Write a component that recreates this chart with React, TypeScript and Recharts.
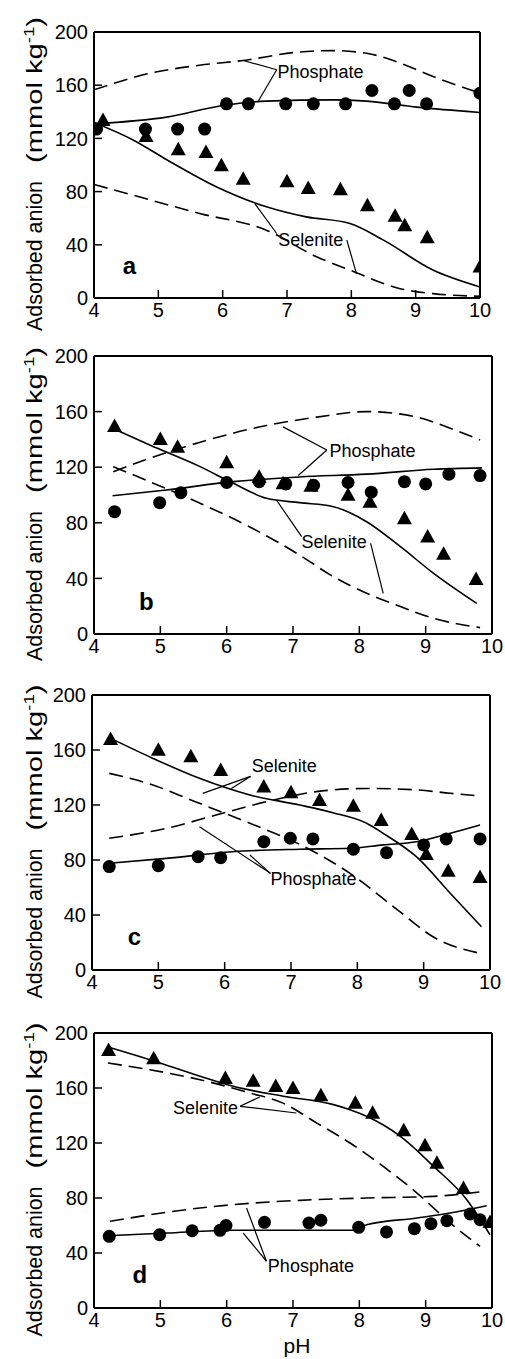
import React from 'react';
import { ComposedChart, XAxis, YAxis, Line, Scatter, ReferenceLine, ReferenceDot } from 'recharts';

type P = [number, number];

const pHTicks = [4, 5, 6, 7, 8, 9, 10];
const anionTicks = [0, 40, 80, 120, 160, 200];

// panel a
const aPhosObs: P[] = [[4.04, 127], [4.8, 127], [5.3, 127], [5.72, 127], [6.06, 146], [6.4, 146], [6.98, 146], [7.41, 146], [7.91, 146], [8.32, 156], [8.67, 146], [8.9, 156], [9.17, 146], [10.0, 154]];
const aSelObs: P[] = [[4.14, 133], [4.81, 121], [5.31, 111], [5.74, 109], [5.98, 99], [6.32, 89], [7.0, 87], [7.33, 82], [7.83, 81], [8.25, 69], [8.68, 61], [8.83, 54], [9.18, 45], [10.0, 23]];
const aPhosFit: P[] = [[4.0, 131], [5.13, 136], [5.98, 144.5], [6.68, 148], [7.72, 149], [8.24, 148], [9.02, 143.5], [10.0, 139.5]];
const aPhosPred: P[] = [[4.0, 156.5], [4.87, 169], [5.64, 175], [6.32, 178.6], [7.2, 185], [7.72, 186], [8.24, 184], [8.76, 176.6], [9.27, 166.6], [10.0, 154]];
const aSelFit: P[] = [[4.0, 132], [4.6, 119], [5.13, 104], [5.9, 83.7], [6.68, 68.6], [7.3, 61], [7.98, 56], [8.5, 43.5], [9.27, 21], [10.0, 8.3]];
const aSelPred: P[] = [[4.0, 85.4], [4.6, 77.4], [5.64, 63.6], [6.68, 51], [7.46, 31], [7.98, 21], [8.76, 7], [9.27, 3.3], [10.0, 1.3]];

// panel b
const bPhosObs: P[] = [[4.31, 88], [4.99, 94.5], [5.31, 101.7], [6.0, 109], [6.49, 109.6], [6.89, 108], [7.31, 107], [7.83, 109], [8.18, 102], [8.68, 109.6], [9.0, 108], [9.35, 115], [9.82, 114]];
const bSelObs: P[] = [[4.31, 149], [5.0, 139.6], [5.26, 134], [6.0, 122.8], [6.49, 112.5], [6.85, 107.7], [7.27, 106], [7.83, 99.5], [8.16, 94.5], [8.68, 82.5], [9.03, 69.5], [9.27, 57], [9.76, 38.8]];
const bPhosFit: P[] = [[4.28, 99.5], [5.09, 103.6], [6.1, 109.6], [7.1, 113], [8.11, 115], [9.12, 118.5], [9.85, 119.5]];
const bPhosPred: P[] = [[4.29, 116.8], [4.84, 126.4], [5.6, 138], [6.6, 150], [7.36, 156], [8.11, 160], [8.87, 156], [9.37, 148], [9.82, 139.6]];
const bSelFit: P[] = [[4.28, 148], [4.84, 136], [5.6, 120.4], [6.1, 108.4], [6.6, 97.6], [7.1, 94.5], [7.61, 91.6], [8.11, 80.8], [8.62, 62.8], [9.12, 43.6], [9.77, 22]];
const bSelPred: P[] = [[4.29, 120.4], [4.84, 109.6], [5.6, 94], [6.35, 77], [7.1, 56.8], [7.61, 41.2], [8.11, 29.3], [8.62, 19.7], [9.12, 11.3], [9.82, 4.6]];

// panel c
const cPhosObs: P[] = [[4.26, 75.2], [5.0, 75.9], [5.6, 82.4], [5.94, 81.7], [6.59, 93.3], [6.99, 95.8], [7.33, 95.3], [7.94, 87.8], [8.44, 85.3], [9.0, 91], [9.34, 95.3], [9.85, 95.3]];
const cSelObs: P[] = [[4.28, 167.3], [5.0, 159.5], [5.49, 154.7], [5.94, 144.7], [6.59, 132.8], [7.0, 128.5], [7.43, 123], [7.94, 118.8], [8.36, 108.4], [8.82, 98.2], [9.04, 83.6], [9.37, 71.5], [9.85, 67]];
const cPhosFit: P[] = [[4.26, 77.6], [5.12, 81.2], [6.12, 86], [7.13, 87.8], [7.89, 88.5], [8.39, 91], [8.89, 93.3], [9.4, 99.4], [9.85, 105.5]];
const cPhosPred: P[] = [[4.26, 95.8], [5.12, 103], [5.87, 112.7], [6.63, 122.4], [7.38, 129.7], [8.14, 132], [8.89, 131], [9.4, 128.5], [9.85, 126.5]];
const cSelFit: P[] = [[4.26, 169], [4.87, 155], [5.62, 139.4], [6.38, 127.3], [7.13, 120], [7.63, 114.4], [8.14, 106.7], [8.39, 99.4], [8.89, 82.4], [9.4, 55.8], [9.87, 31.5]];
const cSelPred: P[] = [[4.26, 143], [4.87, 135.3], [5.62, 121.2], [6.38, 106.7], [7.13, 91.4], [7.89, 70.3], [8.64, 42.4], [9.14, 24.2], [9.85, 12.1]];

// panel d
const dPhosObs: P[] = [[4.23, 52.1], [4.99, 53.3], [5.48, 56.2], [5.9, 56.5], [5.99, 60], [6.57, 62.3], [7.24, 61.8], [7.42, 63.8], [7.99, 58.7], [8.41, 55.3], [8.83, 57.7], [9.08, 61.3], [9.32, 63.5], [9.67, 68.4], [9.82, 64.2]];
const dSelObs: P[] = [[4.22, 187], [4.9, 181], [5.98, 166.5], [6.4, 164.6], [6.74, 160.7], [7.0, 159.3], [7.42, 154], [7.94, 148.6], [8.2, 141.3], [8.67, 128.5], [8.99, 117.6], [9.17, 105], [9.57, 86.5], [9.97, 61.8]];
const dPhosFit: P[] = [[4.21, 52.6], [5.09, 54.5], [6.1, 56.5], [7.11, 56.5], [7.91, 56.5], [8.11, 60.6], [8.87, 65.5], [9.37, 69.1], [9.92, 74.4]];
const dPhosPred: P[] = [[4.24, 63], [5.09, 69.6], [6.1, 75.2], [7.11, 78.3], [8.11, 80], [9.12, 81.2], [9.82, 84.4]];
const dSelFit: P[] = [[4.21, 189.8], [4.84, 180.6], [5.6, 168.5], [6.1, 161.2], [6.85, 154], [7.61, 147.9], [7.86, 144.2], [8.11, 139.4], [8.62, 124.8], [9.12, 103], [9.62, 78.8], [9.97, 53.3]];
const dSelPred: P[] = [[4.21, 178.2], [4.84, 173.3], [5.6, 166], [6.35, 156.4], [6.85, 149], [7.36, 134.5], [7.86, 120], [8.36, 103], [8.87, 83.6], [9.37, 61.8], [9.82, 44.8]];

const toXY = (a: P[]) => a.map(([x, y]) => ({ x, y }));

type Note = { text: string; at: P; from: P; to: P[] };

const Circle = (p: any) => <circle cx={p.cx} cy={p.cy} r={6.5} fill="#000" />;
const Tri = (p: any) => (
  <polygon points={`${p.cx},${p.cy - 8.5} ${p.cx - 7.5},${p.cy + 5} ${p.cx + 7.5},${p.cy + 5}`} fill="#000" />
);

const YLab = ({ cy }: { cy: number }) => (
  <g>
    <text x={42} y={cy + 163} transform={`rotate(-90 42 ${cy + 163})`} fontSize={22} fill="#000"
      textLength={150} lengthAdjust="spacingAndGlyphs">Adsorbed anion</text>
    <text x={42} y={cy - 5} transform={`rotate(-90 42 ${cy - 5})`} fontSize={22} fill="#000"
      textLength={146} lengthAdjust="spacingAndGlyphs">
      (mmol kg<tspan dy={-8} fontSize={14}>-1</tspan><tspan dy={8}>)</tspan>
    </text>
  </g>
);

function Panel(props: {
  top: number; height: number; left: number; right: number; plotTop: number; plotBottom: number;
  phosObs: P[]; selObs: P[]; phosFit: P[]; phosPred: P[]; selFit: P[]; selPred: P[];
  notes: Note[]; letter: string; letterAt: P; last?: boolean;
}) {
  const { top, height, left, right, plotTop, plotBottom, last } = props;
  const xH = last ? 51 : 30;
  // the top and right axes are 1px wide, so take that off the margins
  const margin = { top: plotTop - top - 1, right: 505 - right - 1, left: 0, bottom: top + height - plotBottom - xH };
  const cy = (plotTop + plotBottom) / 2 - top + 3;
  const lineProps = { type: 'monotone' as const, dataKey: 'y', dot: false, stroke: '#000', strokeWidth: 1.6, isAnimationActive: false };
  return (
    <div style={{ position: 'absolute', left: 0, top }}>
      <ComposedChart width={505} height={height} margin={margin}>
        <XAxis dataKey="x" type="number" domain={[4, 10]} ticks={pHTicks} allowDataOverflow height={xH}
          stroke="#000" axisLine={{ strokeWidth: 2 }} tickLine={{ strokeWidth: 1.5 }} tickSize={-8} tickMargin={13}
          tick={{ fill: '#000', fontSize: 20 }}
          label={last ? { value: 'pH', position: 'insideBottom', offset: 6, dx: 4, fontSize: 21, fill: '#000' } : undefined} />
        <XAxis xAxisId="t" orientation="top" dataKey="x" type="number" domain={[4, 10]} ticks={pHTicks} height={1}
          stroke="#000" axisLine={{ strokeWidth: 2 }} tickLine={{ strokeWidth: 1.5 }} tickSize={-8} tickFormatter={() => ''} />
        <YAxis dataKey="y" type="number" domain={[0, 200]} ticks={anionTicks} allowDataOverflow width={left}
          stroke="#000" axisLine={{ strokeWidth: 2 }} tickLine={{ strokeWidth: 1.5 }} tickSize={-8} tickMargin={14}
          tick={{ fill: '#000', fontSize: 20 }} label={<YLab cy={cy} />} />
        <YAxis yAxisId="r" orientation="right" dataKey="y" type="number" domain={[0, 200]} ticks={anionTicks} width={1}
          stroke="#000" axisLine={{ strokeWidth: 2 }} tickLine={{ strokeWidth: 1.5 }} tickSize={-8} tickFormatter={() => ''} />
        <Line data={toXY(props.phosFit)} {...lineProps} />
        <Line data={toXY(props.selFit)} {...lineProps} />
        <Line data={toXY(props.phosPred)} {...lineProps} strokeDasharray="14 7" />
        <Line data={toXY(props.selPred)} {...lineProps} strokeDasharray="14 7" />
        <Scatter data={toXY(props.phosObs)} dataKey="y" shape={Circle} isAnimationActive={false} />
        <Scatter data={toXY(props.selObs)} dataKey="y" shape={Tri} isAnimationActive={false} />
        {props.notes.flatMap((n, i) =>
          n.to.map((t, j) => (
            <ReferenceLine key={`l${i}-${j}`} segment={[{ x: n.from[0], y: n.from[1] }, { x: t[0], y: t[1] }]}
              stroke="#000" strokeWidth={1.2} />
          ))
        )}
        {props.notes.map((n, i) => (
          <ReferenceDot key={`n${i}`} x={n.at[0]} y={n.at[1]} r={0} fill="none" stroke="none"
            label={{ value: n.text, position: 'center', fontSize: 18, fill: '#000' }} />
        ))}
        <ReferenceDot x={props.letterAt[0]} y={props.letterAt[1]} r={0} fill="none" stroke="none"
          label={{ value: props.letter, position: 'center', fontSize: 24, fontWeight: 700, fill: '#000' }} />
      </ComposedChart>
    </div>
  );
}

const aNotes: Note[] = [
  { text: 'Phosphate', at: [7.52, 170.4], from: [6.84, 171.6], to: [[6.32, 178.6], [6.55, 147.7]] },
  { text: 'Selenite', at: [7.37, 44], from: [6.84, 48.5], to: [[6.5, 71]] },
  { text: '', at: [7.37, 44], from: [7.93, 43.5], to: [[8.08, 18.3]] },
];
const bNotes: Note[] = [
  { text: 'Phosphate', at: [8.2, 131.7], from: [7.51, 132.4], to: [[6.85, 149], [7.08, 114]] },
  { text: 'Selenite', at: [7.62, 66.4], from: [7.13, 70], to: [[6.75, 96.4]] },
  { text: '', at: [7.62, 66.4], from: [8.17, 65.2], to: [[8.36, 29.3]] },
];
const cNotes: Note[] = [
  { text: 'Selenite', at: [6.9, 148.4], from: [6.39, 140.8], to: [[5.67, 128.5], [6.1, 132]] },
  { text: 'Phosphate', at: [7.34, 66.7], from: [6.69, 70.3], to: [[5.62, 104.2], [6.38, 83.6]] },
];
const dNotes: Note[] = [
  { text: 'Selenite', at: [5.68, 145.5], from: [6.2, 146.7], to: [[6.5, 153.5], [7.05, 141.8]] },
  { text: 'Phosphate', at: [7.27, 30.8], from: [6.6, 34], to: [[6.3, 72.7], [6.25, 54.5]] },
];

export default function App() {
  return (
    <div style={{ position: 'absolute', left: 0, top: 0, width: 505, height: 1359, background: '#fff', fontFamily: '"Liberation Sans", Arial, sans-serif', overflow: 'hidden' }}>
      <Panel top={0} height={340} left={94} right={480} plotTop={32} plotBottom={298}
        phosObs={aPhosObs} selObs={aSelObs} phosFit={aPhosFit} phosPred={aPhosPred} selFit={aSelFit} selPred={aSelPred}
        notes={aNotes} letter="a" letterAt={[4.55, 24.6]} />
      <Panel top={340} height={330} left={94} right={492} plotTop={356} plotBottom={634}
        phosObs={bPhosObs} selObs={bSelObs} phosFit={bPhosFit} phosPred={bPhosPred} selFit={bSelFit} selPred={bSelPred}
        notes={bNotes} letter="b" letterAt={[4.79, 23.3]} />
      <Panel top={670} height={335} left={92} right={490} plotTop={695} plotBottom={970}
        phosObs={cPhosObs} selObs={cSelObs} phosFit={cPhosFit} phosPred={cPhosPred} selFit={cSelFit} selPred={cSelPred}
        notes={cNotes} letter="c" letterAt={[4.64, 24.2]} />
      <Panel top={1005} height={354} left={94} right={492} plotTop={1033} plotBottom={1308} last
        phosObs={dPhosObs} selObs={dSelObs} phosFit={dPhosFit} phosPred={dPhosPred} selFit={dSelFit} selPred={dSelPred}
        notes={dNotes} letter="d" letterAt={[4.69, 24.2]} />
    </div>
  );
}
